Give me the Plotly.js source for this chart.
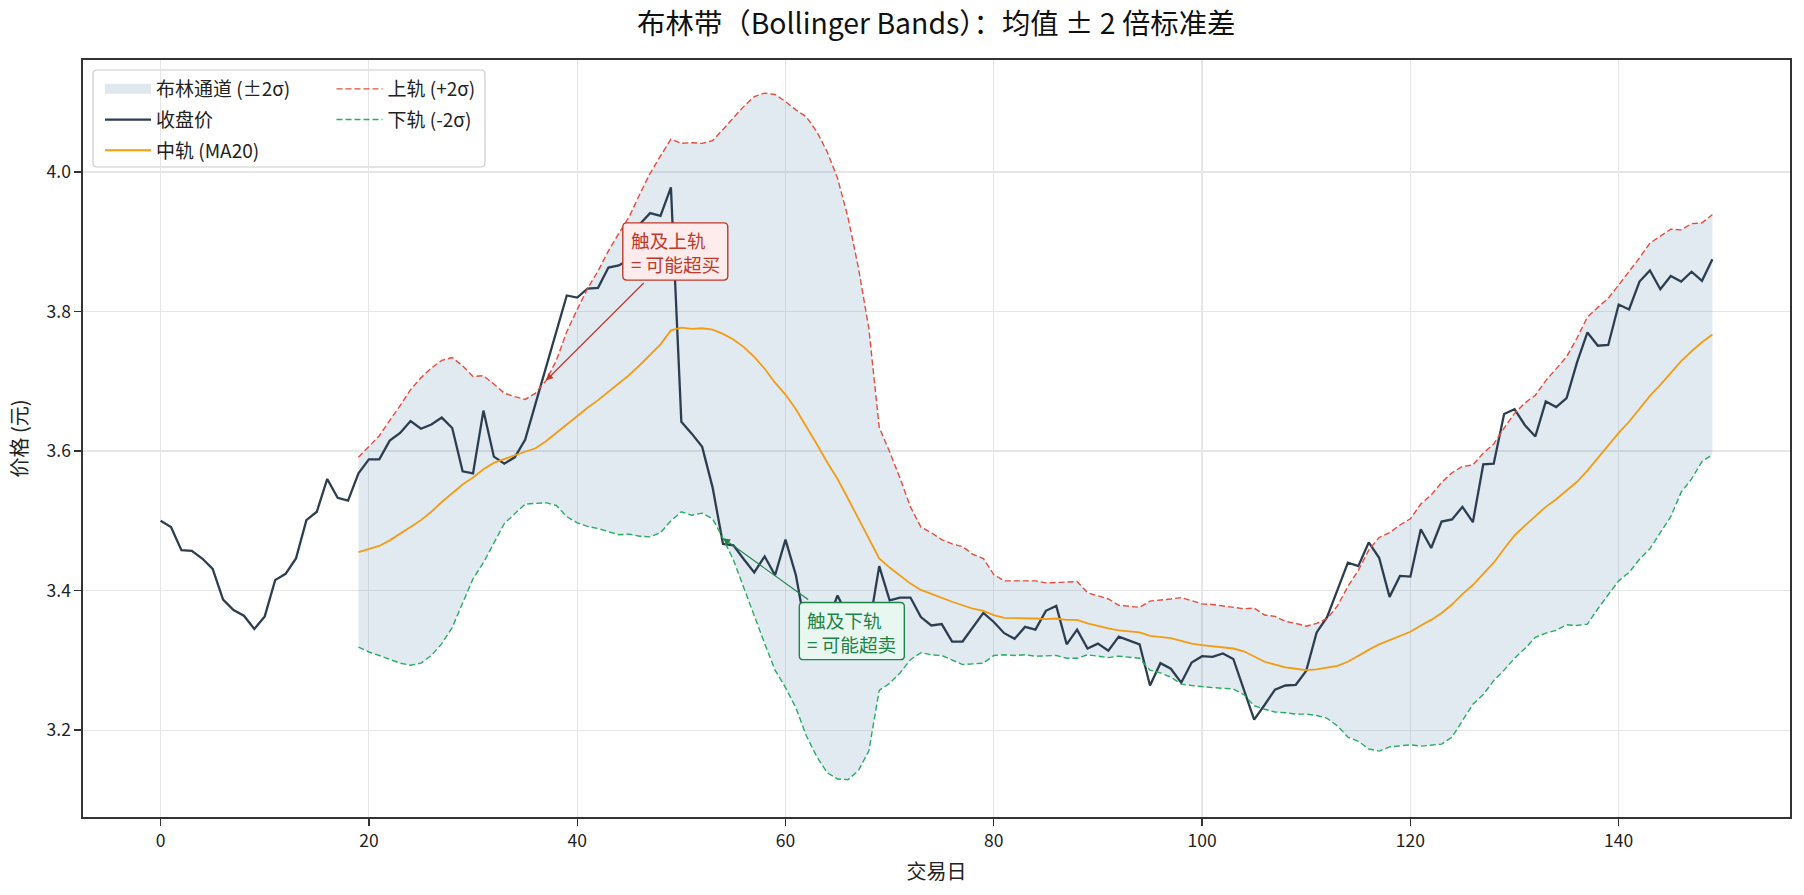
<!DOCTYPE html>
<html>
<head>
<meta charset="utf-8">
<script src="https://cdn.plot.ly/plotly-3.0.1.min.js"></script>
<style>
html,body{margin:0;padding:0;background:#fff;}
#chart{width:1804px;height:895px;}
</style>
</head>
<body>
<div id="chart"></div>
<script>
// ---- values ----
const close = [
3.500,3.491,3.458,3.457,3.446,3.431,3.387,3.372,3.364,3.345,
3.363,3.415,3.424,3.446,3.501,3.513,3.560,3.533,3.529,3.568,
3.588,3.588,3.615,3.626,3.643,3.632,3.638,3.648,3.633,3.571,
3.568,3.658,3.592,3.582,3.591,3.616,3.668,3.720,3.772,3.823,
3.820,3.833,3.834,3.863,3.866,3.875,3.925,3.941,3.937,3.978,
3.642,3.625,3.606,3.548,3.467,3.465,3.445,3.426,3.449,3.422,
3.473,3.422,3.340,3.343,3.355,3.393,3.362,3.353,3.345,3.435,
3.386,3.390,3.390,3.362,3.350,3.352,3.327,3.327,3.348,3.368,
3.355,3.339,3.331,3.348,3.344,3.371,3.378,3.323,3.344,3.317,
3.324,3.314,3.334,3.328,3.323,3.264,3.296,3.288,3.268,3.297,
3.306,3.305,3.310,3.302,3.260,3.215,3.236,3.258,3.264,3.265,
3.285,3.340,3.362,3.401,3.440,3.435,3.469,3.447,3.391,3.421,
3.420,3.488,3.461,3.499,3.502,3.520,3.498,3.581,3.582,3.653,
3.660,3.637,3.621,3.671,3.663,3.676,3.727,3.770,3.751,3.752,
3.810,3.803,3.843,3.859,3.832,3.851,3.843,3.857,3.844,3.875
];
// middle band (MA20), days 19..149
const ma = [
3.455,3.460,3.464,3.472,3.481,3.491,3.501,3.513,3.527,3.540,3.552,3.562,3.574,3.583,3.589,
3.594,3.599,3.604,3.614,3.626,3.639,3.650,3.662,3.673,3.685,3.696,3.709,3.723,3.738,3.753,
3.773,3.777,3.775,3.776,3.774,3.768,3.760,3.749,3.735,3.718,3.698,3.681,3.660,3.636,3.610,
3.584,3.560,3.532,3.503,3.473,3.446,3.433,3.421,3.410,3.401,3.395,3.390,3.384,3.379,3.374,
3.371,3.365,3.361,3.361,3.361,3.360,3.359,3.360,3.358,3.358,3.353,3.349,3.346,3.343,3.341,
3.340,3.335,3.334,3.332,3.328,3.324,3.322,3.320,3.319,3.317,3.313,3.305,3.298,3.294,3.290,
3.288,3.286,3.287,3.289,3.292,3.298,3.307,3.315,3.323,3.329,3.336,3.341,3.350,3.358,3.368,
3.380,3.395,3.408,3.424,3.440,3.460,3.479,3.493,3.506,3.520,3.531,3.543,3.556,3.572,3.590,
3.607,3.626,3.642,3.661,3.679,3.695,3.712,3.729,3.743,3.756,3.767
];
// upper band (+2σ), days 19..149
const upper = [
3.591,3.607,3.622,3.644,3.665,3.688,3.705,3.719,3.730,3.734,3.722,3.707,3.708,3.696,3.683,
3.678,3.674,3.683,3.701,3.730,3.771,3.803,3.833,3.858,3.887,3.912,3.936,3.968,3.998,4.023,
4.047,4.041,4.042,4.041,4.045,4.061,4.077,4.094,4.108,4.113,4.111,4.101,4.089,4.079,4.058,
4.029,3.991,3.935,3.863,3.776,3.634,3.599,3.561,3.520,3.491,3.483,3.473,3.467,3.463,3.452,
3.446,3.423,3.414,3.414,3.414,3.414,3.411,3.412,3.413,3.413,3.397,3.393,3.388,3.379,3.377,
3.376,3.385,3.386,3.388,3.390,3.385,3.381,3.380,3.378,3.375,3.374,3.375,3.365,3.363,3.356,
3.353,3.349,3.353,3.360,3.378,3.406,3.429,3.458,3.476,3.483,3.494,3.503,3.524,3.537,3.555,
3.569,3.578,3.580,3.597,3.610,3.633,3.654,3.669,3.680,3.701,3.718,3.735,3.762,3.792,3.806,
3.819,3.838,3.857,3.877,3.898,3.908,3.918,3.917,3.926,3.927,3.939
];
// lower band (-2σ), days 19..149
const lower = [
3.319,3.312,3.307,3.301,3.296,3.293,3.296,3.307,3.324,3.347,3.381,3.417,3.440,3.469,3.496,
3.510,3.524,3.525,3.526,3.522,3.506,3.497,3.492,3.489,3.484,3.480,3.481,3.478,3.477,3.483,
3.500,3.513,3.508,3.511,3.503,3.475,3.444,3.404,3.361,3.324,3.286,3.261,3.232,3.192,3.162,
3.139,3.130,3.129,3.142,3.170,3.257,3.267,3.282,3.301,3.311,3.308,3.307,3.301,3.294,3.295,
3.296,3.307,3.308,3.307,3.308,3.306,3.307,3.307,3.303,3.303,3.308,3.306,3.304,3.306,3.305,
3.303,3.286,3.282,3.276,3.266,3.264,3.262,3.261,3.260,3.259,3.251,3.235,3.230,3.226,3.225,
3.223,3.223,3.221,3.217,3.206,3.190,3.184,3.173,3.170,3.176,3.177,3.179,3.177,3.179,3.180,
3.190,3.213,3.237,3.251,3.271,3.286,3.303,3.317,3.333,3.339,3.343,3.351,3.350,3.352,3.374,
3.394,3.414,3.426,3.445,3.460,3.483,3.506,3.541,3.560,3.585,3.595
];
const days = close.map((_, i) => i);
const bandDays = days.slice(close.length - ma.length);
const xTicks = [0, 20, 40, 60, 80, 100, 120, 140];
const yTicks = [3.2, 3.4, 3.6, 3.8, 4.0];
const noteUpper = {day: 37, text: '触及上轨<br>= 可能超买', tx: 49.42, ty: 3.886};
const noteLower = {day: 54, text: '触及下轨<br>= 可能超卖', tx: 66.37, ty: 3.342};

const FONT = '"Noto Sans CJK SC", "Noto Sans", sans-serif';
const bandAt = (arr, d) => arr[bandDays.indexOf(d)];

const traces = [
  {x: bandDays, y: lower, type: 'scatter', mode: 'lines', line: {width: 0, color: 'rgba(0,0,0,0)'},
   showlegend: false, hoverinfo: 'skip'},
  {x: bandDays, y: upper, type: 'scatter', mode: 'lines', fill: 'tonexty',
   fillcolor: 'rgba(70,120,165,0.16)', line: {width: 0, color: 'rgba(0,0,0,0)'},
   showlegend: false, hoverinfo: 'skip'},
  // legend swatch for the band fill
  {x: [null], y: [null], type: 'scatter', mode: 'lines', line: {color: '#dfe7ef', width: 14},
   name: '布林通道 (±2σ)', legend: 'legend', legendgroup: 'g1'},
  {x: days, y: close, type: 'scatter', mode: 'lines', line: {color: '#2c3e50', width: 2.3},
   name: '收盘价', legend: 'legend', legendgroup: 'g2'},
  {x: bandDays, y: ma, type: 'scatter', mode: 'lines', line: {color: '#f39c12', width: 1.8},
   name: '中轨 (MA20)', legend: 'legend', legendgroup: 'g3'},
  {x: bandDays, y: upper, type: 'scatter', mode: 'lines', line: {color: '#e74c3c', width: 1.4, dash: '6px,3px'},
   name: '上轨 (+2σ)', legend: 'legend2', legendgroup: 'g4'},
  {x: bandDays, y: lower, type: 'scatter', mode: 'lines', line: {color: '#27ae60', width: 1.4, dash: '6px,3px'},
   name: '下轨 (-2σ)', legend: 'legend2', legendgroup: 'g5'}
];

// plot area in px
const L = 83, R = 14, T = 60, B = 78, FW = 1804, FH = 895;
const PW = FW - L - R, PH = FH - T - B;
const px2x = p => (p - L) / PW;
const py2y = p => (FH - B - p) / PH;
function roundRect(x0, y0, x1, y1, rx, ry) {
  return `M${x0+rx},${y0} L${x1-rx},${y0} Q${x1},${y0} ${x1},${y0+ry} L${x1},${y1-ry} Q${x1},${y1} ${x1-rx},${y1} ` +
         `L${x0+rx},${y1} Q${x0},${y1} ${x0},${y1-ry} L${x0},${y0+ry} Q${x0},${y0} ${x0+rx},${y0} Z`;
}
const legendFrame = roundRect(px2x(93), py2y(167), px2x(485), py2y(70), 4 / PW, 4 / PH);
const noteBox = roundRect(-52.5, -28.6, 52.5, 28.6, 4, 4);

const legendFont = {family: FONT, size: 19, color: '#222'};
const layout = {
  width: FW, height: FH,
  margin: {l: L, r: R, t: T, b: B},
  paper_bgcolor: '#fff', plot_bgcolor: '#fff',
  font: {family: FONT, color: '#222'},
  title: {text: '布林带（Bollinger Bands）：均值 ± 2 倍标准差', font: {family: FONT, size: 28.4, color: '#111'},
          x: 0.519, xref: 'container', xanchor: 'center', y: 1 - 24 / FH, yref: 'container', yanchor: 'middle'},
  xaxis: {range: [-7.45, 156.45], tickvals: xTicks, ticktext: xTicks.map(String), ticks: 'outside', ticklen: 7,
          tickwidth: 1.3, tickcolor: '#333', showline: true, mirror: true, linecolor: '#333', linewidth: 1.6,
          showgrid: true, gridcolor: '#e6e6e6', gridwidth: 1.2, zeroline: false,
          tickfont: {family: FONT, size: 17.5, color: '#222'},
          title: {text: '交易日', font: {family: FONT, size: 20, color: '#222'}, standoff: 14}},
  yaxis: {range: [3.0755, 4.1605], tickvals: yTicks, ticktext: yTicks.map(v => v.toFixed(1)), ticks: 'outside', ticklen: 7,
          tickwidth: 1.3, tickcolor: '#333', showline: true, mirror: true, linecolor: '#333', linewidth: 1.6,
          showgrid: true, gridcolor: '#e6e6e6', gridwidth: 1.2, zeroline: false,
          tickfont: {family: FONT, size: 17.5, color: '#222'},
          title: {text: '价格 (元)', font: {family: FONT, size: 20, color: '#222'}, standoff: 13}},
  legend: {x: px2x(100), y: py2y(70), xanchor: 'left', yanchor: 'top', bgcolor: 'rgba(0,0,0,0)', borderwidth: 0,
           font: legendFont, traceorder: 'grouped', tracegroupgap: 3, itemwidth: 46},
  legend2: {x: px2x(331.5), y: py2y(70), xanchor: 'left', yanchor: 'top', bgcolor: 'rgba(0,0,0,0)', borderwidth: 0,
            font: legendFont, traceorder: 'grouped', tracegroupgap: 3, itemwidth: 46},
  shapes: [
    {type: 'path', xref: 'paper', yref: 'paper', path: legendFrame, layer: 'between',
     fillcolor: 'rgba(255,255,255,0.8)', line: {color: '#cccccc', width: 1.2}},
    {type: 'path', xref: 'x', yref: 'y', xsizemode: 'pixel', ysizemode: 'pixel',
     xanchor: noteUpper.tx, yanchor: noteUpper.ty, path: noteBox, layer: 'above',
     fillcolor: '#fdeceb', line: {color: '#c0392b', width: 1.4}},
    {type: 'path', xref: 'x', yref: 'y', xsizemode: 'pixel', ysizemode: 'pixel',
     xanchor: noteLower.tx, yanchor: noteLower.ty, path: noteBox, layer: 'above',
     fillcolor: '#e8f7ef', line: {color: '#1e8449', width: 1.4}}
  ],
  annotations: [
    {x: noteUpper.day, y: bandAt(upper, noteUpper.day), xref: 'x', yref: 'y', ax: noteUpper.tx, ay: noteUpper.ty,
     axref: 'x', ayref: 'y', text: noteUpper.text, align: 'left', showarrow: true, arrowhead: 2, arrowsize: 1.2,
     arrowwidth: 1.2, arrowcolor: '#c0392b', font: {family: FONT, size: 18.7, color: '#c0392b'},
     bgcolor: 'rgba(0,0,0,0)', borderwidth: 0, borderpad: 6},
    {x: noteLower.day, y: bandAt(lower, noteLower.day), xref: 'x', yref: 'y', ax: noteLower.tx, ay: noteLower.ty,
     axref: 'x', ayref: 'y', text: noteLower.text, align: 'left', showarrow: true, arrowhead: 2, arrowsize: 1.2,
     arrowwidth: 1.2, arrowcolor: '#1e8449', font: {family: FONT, size: 18.7, color: '#1e8449'},
     bgcolor: 'rgba(0,0,0,0)', borderwidth: 0, borderpad: 6}
  ]
};

Plotly.newPlot('chart', traces, layout, {displayModeBar: false, staticPlot: true});
</script>
</body>
</html>
